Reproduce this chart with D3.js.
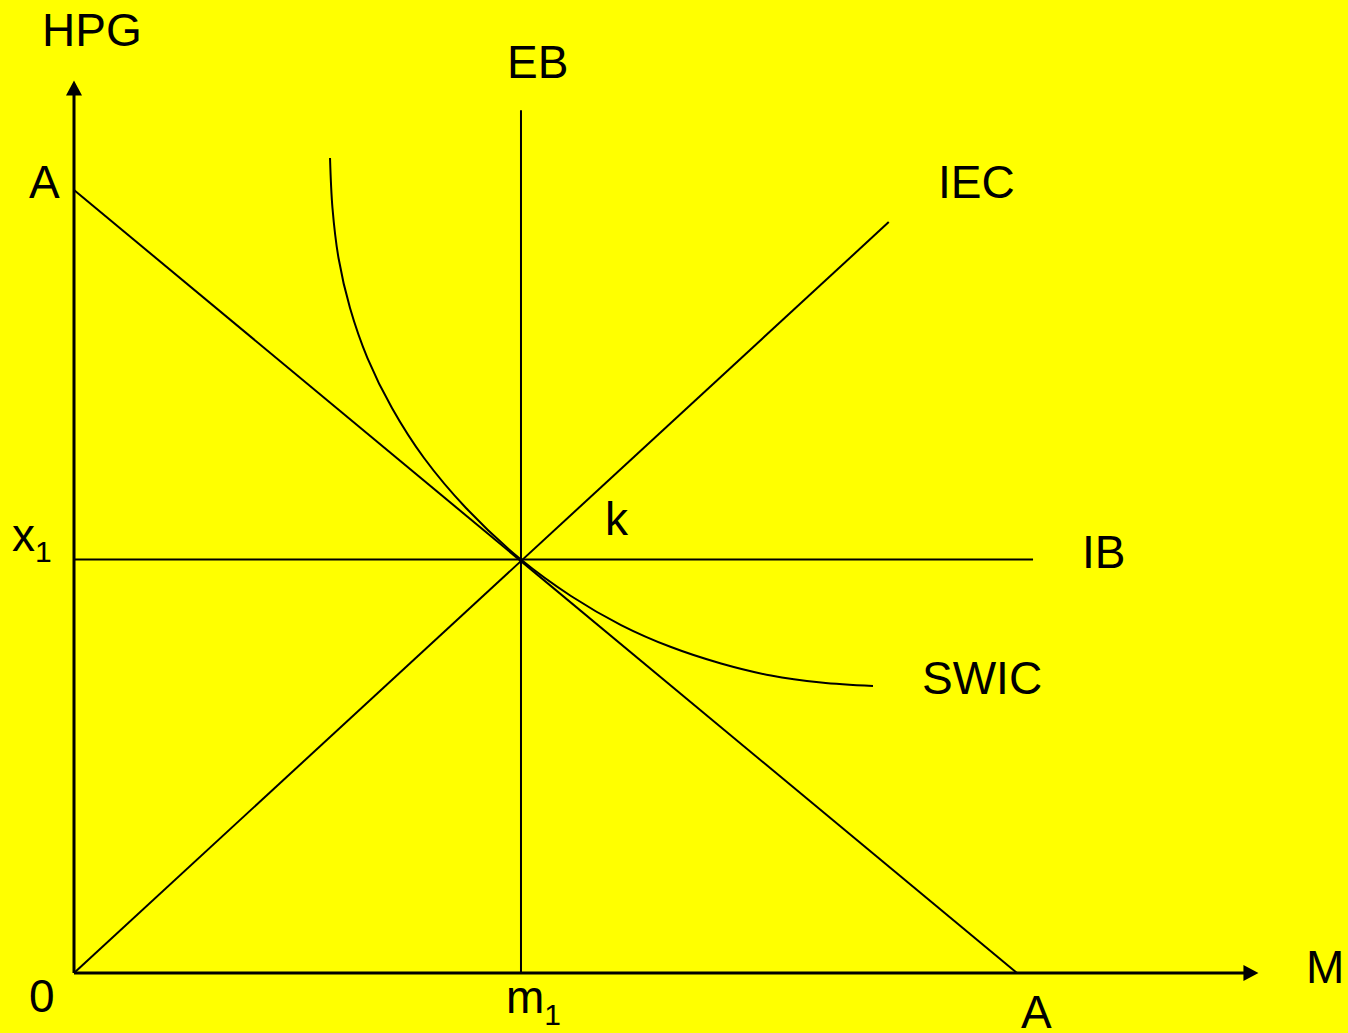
<!DOCTYPE html>
<html>
<head>
<meta charset="utf-8">
<script src="https://cdn.jsdelivr.net/npm/d3@7"></script>
<style>
  body { margin: 0; background: #ffff00; }
  svg { display: block; }
  text { font-family: "Liberation Sans", Arial, sans-serif; fill: #000; }
</style>
</head>
<body>
<div id="graph"></div>
<script>
// chart values (arbitrary units, A = 100 on both axes)
var axisMax = [125.6, 114];          // x end, y end (arrow tips)
var m1 = 47.4;                       // EB position on M axis
var x1 = 52.8;                       // IB position on HPG axis
var budget = [[0, 100], [100, 0]];   // line A-A
var iec = [[0, 0], [86.4, 95.9]];
var eb = [[m1, 0], [m1, 110.2]];
var ib = [[0, x1], [101.7, x1]];
var swic = [
    [27.15, 104.09], [27.41, 97.70], [28.05, 91.32], [29.27, 84.93],
    [31.12, 78.54], [33.72, 72.16], [37.12, 65.77], [41.57, 59.39],
    [47.40, 52.80], [52.70, 48.15], [58.01, 44.44], [63.31, 41.63],
    [68.61, 39.53], [73.91, 37.99], [79.22, 37.10], [84.73, 36.65]
];

var w = 1348;
var h = 1033;

var svg = d3.select("#graph")
    .append("svg")
    .attr("width", w)
    .attr("height", h);

svg.append("rect")
    .attr("width", w)
    .attr("height", h)
    .attr("fill", "#ffff00");

var xScale = d3.scaleLinear().domain([0, 100]).range([74, 1017]);
var yScale = d3.scaleLinear().domain([0, 100]).range([973, 190]);

var line = d3.line()
    .x(function (d) { return xScale(d[0]); })
    .y(function (d) { return yScale(d[1]); });

// axes with arrow heads
var ox = xScale(0), oy = yScale(0);
var xEnd = xScale(axisMax[0]), yEnd = yScale(axisMax[1]);

svg.append("line")
    .attr("x1", ox).attr("y1", oy)
    .attr("x2", xEnd - 14).attr("y2", oy)
    .attr("stroke", "#000").attr("stroke-width", 3);
svg.append("line")
    .attr("x1", ox).attr("y1", oy)
    .attr("x2", ox).attr("y2", yEnd + 14)
    .attr("stroke", "#000").attr("stroke-width", 3);

svg.append("path")
    .attr("d", "M" + xEnd + "," + oy + "L" + (xEnd - 15) + "," + (oy - 8) + "L" + (xEnd - 15) + "," + (oy + 8) + "Z")
    .attr("fill", "#000");
svg.append("path")
    .attr("d", "M" + ox + "," + yEnd + "L" + (ox - 8) + "," + (yEnd + 15) + "L" + (ox + 8) + "," + (yEnd + 15) + "Z")
    .attr("fill", "#000");

// straight lines
[budget, iec, eb, ib].forEach(function (d) {
    svg.append("path")
        .attr("d", line(d))
        .attr("fill", "none")
        .attr("stroke", "#000")
        .attr("stroke-width", 2);
});

// SWIC curve
svg.append("path")
    .attr("d", line.curve(d3.curveCatmullRom.alpha(0.5))(swic))
    .attr("fill", "none")
    .attr("stroke", "#000")
    .attr("stroke-width", 2);

// labels
var fs = 46;
function label(txt, x, y, anchor) {
    return svg.append("text")
        .attr("x", x)
        .attr("y", y)
        .attr("font-size", fs)
        .attr("text-anchor", anchor || "start")
        .text(txt);
}

label("HPG", 42, 46);
label("M", 1306, 983);
label("A", 29, 198);
label("0", 29, 1012);
label("A", 1021, 1028);
label("EB", xScale(m1) - 14, 78);
label("IEC", 938, 198);
label("IB", 1082, 568);
label("SWIC", 922, 694);
label("k", 605, 535);

var xl = label("x", 12, 551);
xl.append("tspan").attr("font-size", 30).attr("dy", 11).text("1");

var ml = label("m", 506, 1013);
ml.append("tspan").attr("font-size", 30).attr("dy", 12).text("1");
</script>
</body>
</html>
